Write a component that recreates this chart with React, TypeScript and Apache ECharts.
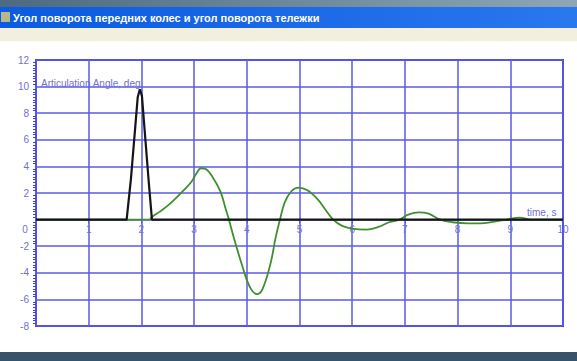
import React, { useEffect, useRef } from "react";
import * as echarts from "echarts";

const titleText = "Угол поворота передних колес и угол поворота тележки";
const yAxisTitle = "Articulation Angle, deg";
const xAxisTitle = "time, s";

const articulationAngle: [number, number][] = [
  [0, 0], [1.72, 0], [1.8, 3.0], [1.88, 6.8], [1.93, 9.2], [1.97, 9.8], [2.01, 9.3],
  [2.07, 6.3], [2.14, 2.8], [2.2, 0], [10, 0],
];

const wheelAngle: [number, number][] = [
  [0, 0], [2.15, 0], [2.2, 0.2], [2.35, 0.6], [2.5, 1.05], [2.65, 1.6], [2.8, 2.2],
  [2.95, 2.85], [3.05, 3.5], [3.13, 3.86], [3.22, 3.8], [3.35, 3.2], [3.5, 2.1],
  [3.6, 0.8], [3.66, 0], [3.75, -1.3], [3.9, -3.3], [4.05, -5.0], [4.19, -5.6],
  [4.3, -5.2], [4.45, -3.3], [4.55, -1.3], [4.63, 0], [4.72, 1.3], [4.85, 2.15],
  [4.98, 2.4], [5.15, 2.2], [5.35, 1.5], [5.5, 0.7], [5.64, 0], [5.8, -0.45],
  [6.0, -0.68], [6.27, -0.75], [6.5, -0.55], [6.7, -0.2], [6.9, 0], [7.05, 0.35],
  [7.26, 0.55], [7.45, 0.45], [7.67, 0], [7.9, -0.2], [8.2, -0.28], [8.43, -0.28],
  [8.7, -0.15], [8.93, 0], [9.18, 0.15], [9.4, 0], [10, 0],
];

const xMin = 0, xMax = 10, xStep = 1;
const yMin = -8, yMax = 12, yStep = 2;

const gridTop = 60, gridBottom = 35, chartH = 361;
const plotH = chartH - gridTop - gridBottom;
const zeroOffset = -(plotH * (0 - yMin)) / (yMax - yMin);

const gridBlue = "#5a5ae6";
const labelBlue = "#6f6fd6";

export default function App() {
  const ref = useRef<HTMLDivElement>(null);
  useEffect(() => {
    if (!ref.current) return;
    const chart = echarts.init(ref.current, null, { renderer: "svg" });
    chart.setOption({
      animation: false,
      backgroundColor: "#ffffff",
      grid: {
        left: 36, right: 14, top: gridTop, bottom: gridBottom,
        show: true, borderColor: "#4040dd", borderWidth: 2, backgroundColor: "#ffffff",
      },
      xAxis: {
        type: "value", min: xMin, max: xMax, interval: xStep,
        position: "bottom", offset: zeroOffset,
        axisLine: { show: false, onZero: false },
        axisTick: { show: true, inside: false, length: 4, lineStyle: { color: gridBlue } },
        splitLine: { show: true, lineStyle: { color: gridBlue, width: 1.5 } },
        axisLabel: {
          color: labelBlue, fontSize: 10, fontFamily: "Liberation Sans", margin: 5,
          formatter: (v: number) => (v === 0 ? "{z|0}" : String(v)),
          rich: { z: { padding: [0, 22, 0, 0], color: labelBlue, fontSize: 10, fontFamily: "Liberation Sans" } },
        },
      },
      yAxis: {
        type: "value", min: yMin, max: yMax, interval: yStep,
        axisLine: { show: false },
        axisTick: { show: false },
        minorTick: { show: true, splitNumber: 10, length: 3, lineStyle: { color: "#4040dd" } },
        splitLine: { show: true, lineStyle: { color: gridBlue, width: 1.5 } },
        axisLabel: {
          color: labelBlue, fontSize: 10, fontFamily: "Liberation Sans", margin: 7,
          formatter: (v: number) => (v === 0 ? "" : String(v)),
        },
      },
      series: [
        {
          type: "line", data: wheelAngle, symbol: "none", smooth: 0.4,
          lineStyle: { color: "#3f8f2f", width: 1.8 },
        },
        {
          type: "line", data: articulationAngle, symbol: "none",
          lineStyle: { color: "#151515", width: 2.2 },
        },
      ],
      graphic: [
        {
          type: "rect", shape: { x: 0, y: 0, width: 577, height: 8 }, silent: true,
          style: { fill: new echarts.graphic.LinearGradient(0, 0, 1, 0, [
            { offset: 0, color: "#4d6a80" }, { offset: 1, color: "#8ea6b6" },
          ]) },
        },
        {
          type: "rect", shape: { x: 0, y: 7, width: 577, height: 21 }, silent: true,
          style: { fill: new echarts.graphic.LinearGradient(0, 0, 1, 0, [
            { offset: 0, color: "#0b5ae0" }, { offset: 1, color: "#2a78ee" },
          ]) },
        },
        {
          type: "rect", shape: { x: 1, y: 12, width: 9, height: 10 }, silent: true,
          style: { fill: "#b7b88a" },
        },
        {
          type: "text", x: 13, y: 17.5, silent: true,
          style: {
            text: titleText, fill: "#ffffff", font: "bold 11px 'Liberation Sans'",
            verticalAlign: "middle",
          },
        },
        {
          type: "rect", shape: { x: 0, y: 28, width: 577, height: 13 }, silent: true,
          style: { fill: "#f2efdc" },
        },
        {
          type: "rect", shape: { x: 0, y: 352, width: 577, height: 9 }, silent: true,
          style: { fill: "#38526a" },
        },
        {
          type: "text", x: 41, y: 83, silent: true, z: 10,
          style: {
            text: yAxisTitle, fill: labelBlue, font: "10px 'Liberation Sans'",
            verticalAlign: "middle",
          },
        },
        {
          type: "text", x: 527, y: 212, silent: true, z: 10,
          style: {
            text: xAxisTitle, fill: labelBlue, font: "10px 'Liberation Sans'",
            verticalAlign: "middle",
          },
        },
      ],
    });
    return () => chart.dispose();
  }, []);
  return (
    <div
      ref={ref}
      style={{ position: "fixed", left: 0, top: 0, width: 577, height: 361 }}
    />
  );
}
